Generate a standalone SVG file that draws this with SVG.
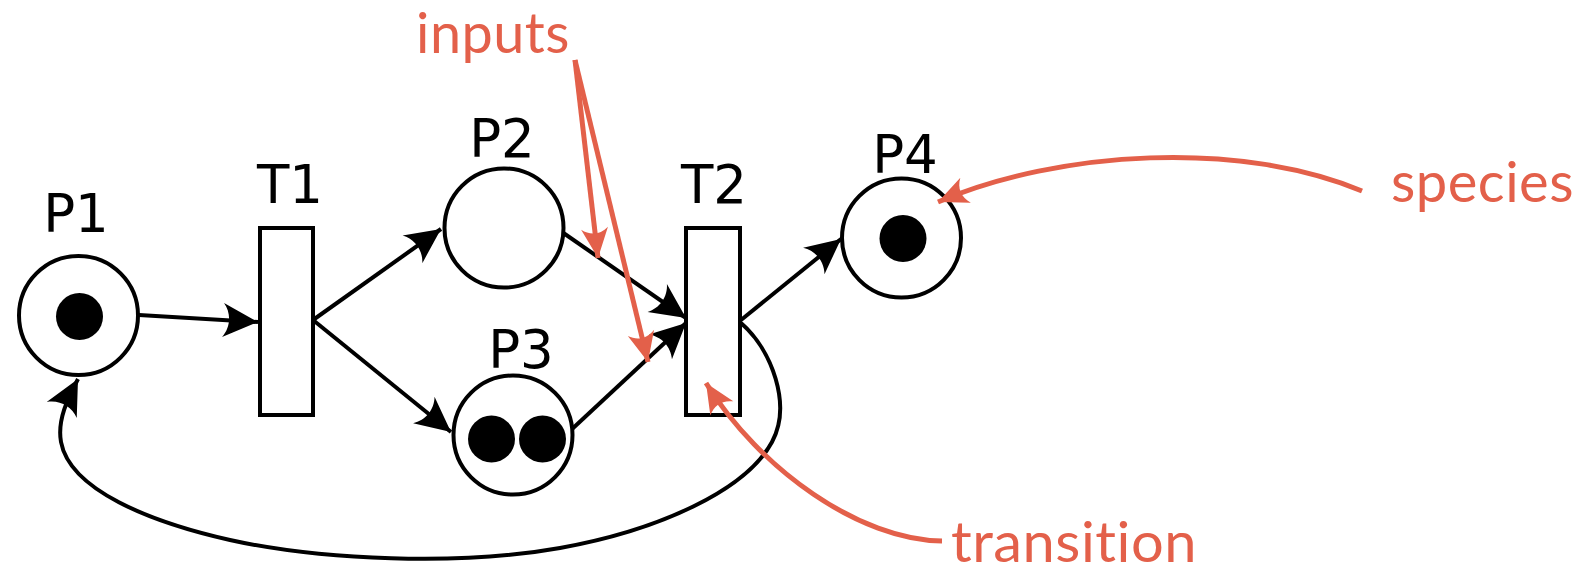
<svg xmlns="http://www.w3.org/2000/svg" width="1588" height="572" viewBox="0 0 1588 572">
<style>
.place{fill:#fff;stroke:#000;stroke-width:4}
.trans{fill:#fff;stroke:#000;stroke-width:4}
.tok{fill:#000}
.lbl{font-family:"DejaVu Sans",sans-serif;font-size:53px;fill:#000;text-anchor:middle}
.arc{fill:none;stroke:#000;stroke-width:4;marker-end:url(#ah)}
.note{font-family:Lato,"Open Sans",sans-serif;font-size:56px;fill:#E3604A;letter-spacing:0.5px;font-variant-ligatures:none}
.nline{fill:none;stroke:#E3604A;stroke-width:5;marker-end:url(#rh)}
</style>
<defs>
<marker id="ah" markerUnits="userSpaceOnUse" markerWidth="40" markerHeight="40" viewBox="0 0 40 40" refX="37" refY="20" orient="auto">
<path d="M37,20 L2,3 C10,13 10,27 2,37 Z" fill="#000" stroke="none"/>
</marker>
<marker id="rh" markerUnits="userSpaceOnUse" markerWidth="34" markerHeight="34" viewBox="0 0 34 34" refX="31" refY="17" orient="auto">
<path d="M31,17 L1,3.5 C8,12 8,22 1,30.5 Z" fill="#E3604A" stroke="none"/>
</marker>
</defs>
<rect width="1588" height="572" fill="#fff"/>
<g id="connectors">
<path class="arc" d="M139,315 L258,322"/>
<path class="arc" d="M313,320 L441,229"/>
<path class="arc" d="M313,320 L451,432"/>
<path class="arc" d="M562,232 L686,318"/>
<path class="arc" d="M571,430 L686,323"/>
<path class="arc" d="M741,320 L841,239"/>
<path class="arc" d="M741,323 C772,350 792,405 772,442 C746,490 660,530 560,548 C460,566 320,560 230,540 C150,522 70,490 61,442 C57,420 68,398 78,379"/>
</g>
<g id="P1">
<circle class="place" cx="78.5" cy="315.5" r="59.5"/>
<circle class="tok" cx="79.5" cy="316.5" r="23.5"/>
<text class="lbl" x="76" y="232">P1</text>
</g>
<g id="T1">
<rect class="trans" x="260" y="228" width="53" height="187"/>
<text class="lbl" x="290" y="203">T1</text>
</g>
<g id="P2">
<circle class="place" cx="504" cy="228" r="59.5"/>
<text class="lbl" x="502" y="157">P2</text>
</g>
<g id="P3">
<circle class="place" cx="513" cy="435" r="59.5"/>
<circle class="tok" cx="491.5" cy="439" r="23.5"/>
<circle class="tok" cx="542.5" cy="439" r="23.5"/>
<text class="lbl" x="521" y="368">P3</text>
</g>
<g id="T2">
<rect class="trans" x="686" y="228" width="54" height="187"/>
<text class="lbl" x="714" y="203">T2</text>
</g>
<g id="P4">
<circle class="place" cx="901.5" cy="238" r="59.5"/>
<circle class="tok" cx="903" cy="238.5" r="23.5"/>
<text class="lbl" x="905" y="173">P4</text>
</g>
<g id="annotations">
<text class="note" x="416" y="53" textLength="154" lengthAdjust="spacingAndGlyphs">inputs</text>
<path class="nline" d="M575,60 L598,258"/>
<path class="nline" d="M575,60 L648,362"/>
<text class="note" x="1391" y="202" textLength="183" lengthAdjust="spacingAndGlyphs">species</text>
<path class="nline" d="M1362,191 C1240,140 1060,150 938,202"/>
<text class="note" x="951" y="562" textLength="246" lengthAdjust="spacingAndGlyphs">transition</text>
<path class="nline" d="M942,541 C860,540 760,470 706,383"/>
</g>
</svg>
